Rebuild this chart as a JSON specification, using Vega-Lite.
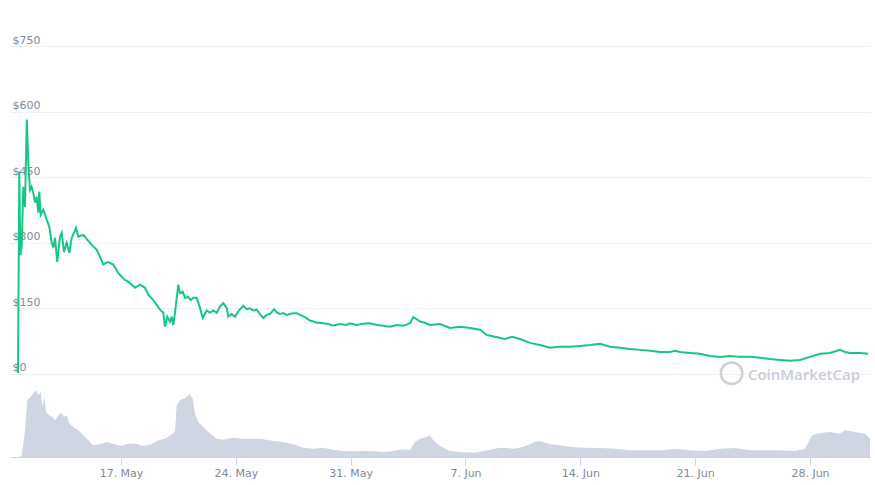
{
  "$schema": "https://vega.github.io/schema/vega-lite/v6.json",
  "width": 860,
  "height": 411,
  "autosize": {"type": "none"},
  "padding": {"left": 10, "top": 46, "right": 5, "bottom": 28},
  "background": "white",
  "config": {"view": {"stroke": null}, "font": "DejaVu Sans"},
  "datasets": {
    "price": [
      {"date": "2021-05-10T17:18", "price": 2},
      {"date": "2021-05-10T19:13", "price": 463},
      {"date": "2021-05-10T20:41", "price": 272},
      {"date": "2021-05-10T22:44", "price": 291},
      {"date": "2021-05-11T01:04", "price": 428},
      {"date": "2021-05-11T03:34", "price": 382},
      {"date": "2021-05-11T06:11", "price": 582},
      {"date": "2021-05-11T08:23", "price": 483},
      {"date": "2021-05-11T10:52", "price": 421},
      {"date": "2021-05-11T13:04", "price": 428},
      {"date": "2021-05-11T15:42", "price": 414},
      {"date": "2021-05-11T18:11", "price": 392},
      {"date": "2021-05-11T20:40", "price": 405},
      {"date": "2021-05-11T23:01", "price": 369},
      {"date": "2021-05-12T00:29", "price": 417},
      {"date": "2021-05-12T02:31", "price": 364},
      {"date": "2021-05-12T06:20", "price": 376},
      {"date": "2021-05-12T11:18", "price": 353},
      {"date": "2021-05-12T15:06", "price": 337},
      {"date": "2021-05-12T18:37", "price": 300},
      {"date": "2021-05-12T20:57", "price": 289},
      {"date": "2021-05-12T23:26", "price": 311},
      {"date": "2021-05-13T02:48", "price": 256},
      {"date": "2021-05-13T06:45", "price": 314},
      {"date": "2021-05-13T09:15", "price": 323},
      {"date": "2021-05-13T12:36", "price": 279},
      {"date": "2021-05-13T16:34", "price": 300},
      {"date": "2021-05-13T20:22", "price": 277},
      {"date": "2021-05-13T23:52", "price": 311},
      {"date": "2021-05-14T03:14", "price": 323},
      {"date": "2021-05-14T06:10", "price": 334},
      {"date": "2021-05-14T09:32", "price": 314},
      {"date": "2021-05-14T16:51", "price": 318},
      {"date": "2021-05-14T22:42", "price": 307},
      {"date": "2021-05-15T05:08", "price": 295},
      {"date": "2021-05-15T12:27", "price": 284},
      {"date": "2021-05-15T17:16", "price": 268},
      {"date": "2021-05-15T22:06", "price": 250},
      {"date": "2021-05-16T02:04", "price": 254},
      {"date": "2021-05-16T05:26", "price": 256},
      {"date": "2021-05-16T12:44", "price": 250},
      {"date": "2021-05-16T20:03", "price": 231},
      {"date": "2021-05-17T01:01", "price": 222},
      {"date": "2021-05-17T05:51", "price": 215},
      {"date": "2021-05-17T10:41", "price": 211},
      {"date": "2021-05-17T15:39", "price": 204},
      {"date": "2021-05-17T20:29", "price": 197},
      {"date": "2021-05-18T03:48", "price": 204},
      {"date": "2021-05-18T11:07", "price": 197},
      {"date": "2021-05-18T15:56", "price": 181},
      {"date": "2021-05-18T23:15", "price": 169},
      {"date": "2021-05-19T04:13", "price": 158},
      {"date": "2021-05-19T09:03", "price": 147},
      {"date": "2021-05-19T13:53", "price": 140},
      {"date": "2021-05-19T16:22", "price": 108},
      {"date": "2021-05-19T19:44", "price": 131},
      {"date": "2021-05-19T23:41", "price": 119},
      {"date": "2021-05-20T02:10", "price": 131},
      {"date": "2021-05-20T04:31", "price": 112},
      {"date": "2021-05-20T07:00", "price": 140},
      {"date": "2021-05-20T11:50", "price": 204},
      {"date": "2021-05-20T14:19", "price": 185},
      {"date": "2021-05-20T18:16", "price": 188},
      {"date": "2021-05-20T21:38", "price": 174},
      {"date": "2021-05-21T02:28", "price": 176},
      {"date": "2021-05-21T06:00", "price": 169},
      {"date": "2021-05-21T09:48", "price": 174},
      {"date": "2021-05-21T14:46", "price": 174},
      {"date": "2021-05-21T19:36", "price": 151},
      {"date": "2021-05-21T23:33", "price": 128},
      {"date": "2021-05-22T05:23", "price": 145},
      {"date": "2021-05-22T10:12", "price": 140},
      {"date": "2021-05-22T15:02", "price": 145},
      {"date": "2021-05-22T20:00", "price": 140},
      {"date": "2021-05-23T00:50", "price": 154},
      {"date": "2021-05-23T05:41", "price": 162},
      {"date": "2021-05-23T10:38", "price": 151},
      {"date": "2021-05-23T13:00", "price": 131},
      {"date": "2021-05-23T17:58", "price": 137},
      {"date": "2021-05-23T22:48", "price": 131},
      {"date": "2021-05-24T03:37", "price": 143},
      {"date": "2021-05-24T10:56", "price": 156},
      {"date": "2021-05-24T15:54", "price": 148},
      {"date": "2021-05-24T20:44", "price": 150},
      {"date": "2021-05-25T01:33", "price": 145},
      {"date": "2021-05-25T06:32", "price": 147},
      {"date": "2021-05-25T11:21", "price": 137},
      {"date": "2021-05-25T16:11", "price": 128},
      {"date": "2021-05-25T21:09", "price": 135},
      {"date": "2021-05-26T01:59", "price": 137},
      {"date": "2021-05-26T07:50", "price": 148},
      {"date": "2021-05-26T12:13", "price": 140},
      {"date": "2021-05-26T16:37", "price": 137},
      {"date": "2021-05-26T21:26", "price": 139},
      {"date": "2021-05-27T02:25", "price": 135},
      {"date": "2021-05-27T07:15", "price": 137},
      {"date": "2021-05-27T12:04", "price": 139},
      {"date": "2021-05-27T17:02", "price": 139},
      {"date": "2021-05-27T21:52", "price": 135},
      {"date": "2021-05-28T05:12", "price": 130},
      {"date": "2021-05-28T12:32", "price": 122},
      {"date": "2021-05-28T17:21", "price": 120},
      {"date": "2021-05-28T22:19", "price": 117},
      {"date": "2021-05-29T03:08", "price": 117},
      {"date": "2021-05-29T12:56", "price": 115},
      {"date": "2021-05-29T22:35", "price": 111},
      {"date": "2021-05-30T08:25", "price": 114},
      {"date": "2021-05-30T18:12", "price": 112},
      {"date": "2021-05-30T23:02", "price": 116},
      {"date": "2021-05-31T08:50", "price": 112},
      {"date": "2021-05-31T18:30", "price": 115},
      {"date": "2021-06-01T04:18", "price": 116},
      {"date": "2021-06-01T14:06", "price": 112},
      {"date": "2021-06-01T23:46", "price": 110},
      {"date": "2021-06-02T09:32", "price": 108},
      {"date": "2021-06-02T19:20", "price": 112},
      {"date": "2021-06-03T05:01", "price": 110},
      {"date": "2021-06-03T14:48", "price": 116},
      {"date": "2021-06-03T19:38", "price": 130},
      {"date": "2021-06-04T00:35", "price": 125},
      {"date": "2021-06-04T05:24", "price": 120},
      {"date": "2021-06-04T12:43", "price": 117},
      {"date": "2021-06-04T20:01", "price": 112},
      {"date": "2021-06-05T10:42", "price": 114},
      {"date": "2021-06-06T01:18", "price": 105},
      {"date": "2021-06-06T15:54", "price": 108},
      {"date": "2021-06-07T06:36", "price": 105},
      {"date": "2021-06-07T21:12", "price": 101},
      {"date": "2021-06-08T07:24", "price": 89},
      {"date": "2021-06-08T19:06", "price": 85},
      {"date": "2021-06-09T09:48", "price": 80},
      {"date": "2021-06-09T20:00", "price": 85},
      {"date": "2021-06-10T07:42", "price": 80},
      {"date": "2021-06-10T22:24", "price": 71},
      {"date": "2021-06-11T13:00", "price": 66},
      {"date": "2021-06-12T03:36", "price": 60},
      {"date": "2021-06-12T18:18", "price": 62},
      {"date": "2021-06-13T08:54", "price": 62},
      {"date": "2021-06-13T23:30", "price": 64},
      {"date": "2021-06-14T14:12", "price": 66},
      {"date": "2021-06-15T04:48", "price": 69},
      {"date": "2021-06-15T19:24", "price": 62},
      {"date": "2021-06-16T10:06", "price": 60},
      {"date": "2021-06-17T00:42", "price": 57},
      {"date": "2021-06-17T15:18", "price": 55},
      {"date": "2021-06-18T06:00", "price": 53},
      {"date": "2021-06-18T20:36", "price": 50},
      {"date": "2021-06-19T11:12", "price": 50},
      {"date": "2021-06-19T18:36", "price": 53},
      {"date": "2021-06-20T01:54", "price": 50},
      {"date": "2021-06-20T16:30", "price": 48},
      {"date": "2021-06-21T07:06", "price": 46},
      {"date": "2021-06-21T21:48", "price": 41},
      {"date": "2021-06-22T12:24", "price": 39},
      {"date": "2021-06-23T03:00", "price": 41},
      {"date": "2021-06-23T17:42", "price": 39},
      {"date": "2021-06-24T08:18", "price": 39},
      {"date": "2021-06-24T22:54", "price": 37},
      {"date": "2021-06-25T13:36", "price": 34},
      {"date": "2021-06-26T04:12", "price": 32},
      {"date": "2021-06-26T18:48", "price": 30},
      {"date": "2021-06-27T09:30", "price": 32},
      {"date": "2021-06-28T00:06", "price": 39},
      {"date": "2021-06-28T14:42", "price": 46},
      {"date": "2021-06-29T05:24", "price": 48},
      {"date": "2021-06-29T20:00", "price": 55},
      {"date": "2021-06-30T03:18", "price": 50},
      {"date": "2021-06-30T10:36", "price": 48},
      {"date": "2021-07-01T01:18", "price": 48},
      {"date": "2021-07-01T13:00", "price": 46}
    ],
    "volume": [
      {"date": "2021-05-10T15:24", "volume": 0},
      {"date": "2021-05-10T22:44", "volume": 0.7},
      {"date": "2021-05-11T03:34", "volume": 26.7},
      {"date": "2021-05-11T06:55", "volume": 56.7},
      {"date": "2021-05-11T11:54", "volume": 60},
      {"date": "2021-05-11T16:43", "volume": 65},
      {"date": "2021-05-11T19:39", "volume": 66.7},
      {"date": "2021-05-11T23:00", "volume": 61.7},
      {"date": "2021-05-12T02:31", "volume": 65},
      {"date": "2021-05-12T04:52", "volume": 50},
      {"date": "2021-05-12T07:48", "volume": 60},
      {"date": "2021-05-12T10:17", "volume": 45},
      {"date": "2021-05-12T15:07", "volume": 41.7},
      {"date": "2021-05-12T20:05", "volume": 40},
      {"date": "2021-05-12T23:27", "volume": 36.7},
      {"date": "2021-05-13T04:16", "volume": 41.7},
      {"date": "2021-05-13T09:15", "volume": 44.3},
      {"date": "2021-05-13T12:36", "volume": 40},
      {"date": "2021-05-13T16:34", "volume": 41.7},
      {"date": "2021-05-13T20:22", "volume": 33.3},
      {"date": "2021-05-14T02:13", "volume": 30},
      {"date": "2021-05-14T09:32", "volume": 26.7},
      {"date": "2021-05-14T16:51", "volume": 21.7},
      {"date": "2021-05-15T00:10", "volume": 16.7},
      {"date": "2021-05-15T06:35", "volume": 11.7},
      {"date": "2021-05-15T17:16", "volume": 12.7},
      {"date": "2021-05-16T03:04", "volume": 15},
      {"date": "2021-05-16T12:44", "volume": 13.3},
      {"date": "2021-05-16T22:32", "volume": 11},
      {"date": "2021-05-17T10:41", "volume": 13.3},
      {"date": "2021-05-17T23:00", "volume": 13.3},
      {"date": "2021-05-18T08:38", "volume": 11},
      {"date": "2021-05-18T20:55", "volume": 12.7},
      {"date": "2021-05-19T06:34", "volume": 16.7},
      {"date": "2021-05-19T16:22", "volume": 18.3},
      {"date": "2021-05-19T23:41", "volume": 21.7},
      {"date": "2021-05-20T07:00", "volume": 25},
      {"date": "2021-05-20T09:29", "volume": 51.7},
      {"date": "2021-05-20T14:19", "volume": 56.7},
      {"date": "2021-05-20T19:09", "volume": 58.3},
      {"date": "2021-05-21T00:07", "volume": 60},
      {"date": "2021-05-21T04:57", "volume": 63.3},
      {"date": "2021-05-21T08:54", "volume": 58.3},
      {"date": "2021-05-21T12:16", "volume": 43.3},
      {"date": "2021-05-21T17:06", "volume": 35},
      {"date": "2021-05-22T00:24", "volume": 30},
      {"date": "2021-05-22T10:12", "volume": 23.3},
      {"date": "2021-05-22T20:02", "volume": 18.3},
      {"date": "2021-05-23T05:41", "volume": 17.3},
      {"date": "2021-05-23T20:19", "volume": 19.3},
      {"date": "2021-05-24T10:57", "volume": 18.3},
      {"date": "2021-05-25T01:35", "volume": 18.3},
      {"date": "2021-05-25T16:12", "volume": 17.7},
      {"date": "2021-05-26T06:49", "volume": 16},
      {"date": "2021-05-26T21:28", "volume": 15},
      {"date": "2021-05-27T12:05", "volume": 12.7},
      {"date": "2021-05-28T02:43", "volume": 9.3},
      {"date": "2021-05-28T17:20", "volume": 8.3},
      {"date": "2021-05-29T07:59", "volume": 9.3},
      {"date": "2021-05-29T22:36", "volume": 7.3},
      {"date": "2021-05-30T13:14", "volume": 6},
      {"date": "2021-05-31T03:52", "volume": 5.7},
      {"date": "2021-05-31T18:30", "volume": 6},
      {"date": "2021-06-01T09:07", "volume": 5.7},
      {"date": "2021-06-01T23:46", "volume": 5},
      {"date": "2021-06-02T14:24", "volume": 6},
      {"date": "2021-06-03T00:07", "volume": 7.3},
      {"date": "2021-06-03T14:48", "volume": 7.3},
      {"date": "2021-06-03T22:06", "volume": 15},
      {"date": "2021-06-04T05:24", "volume": 18.3},
      {"date": "2021-06-04T15:12", "volume": 20},
      {"date": "2021-06-04T20:01", "volume": 21.7},
      {"date": "2021-06-05T00:54", "volume": 16.7},
      {"date": "2021-06-05T10:42", "volume": 11},
      {"date": "2021-06-06T01:18", "volume": 6},
      {"date": "2021-06-06T15:54", "volume": 5},
      {"date": "2021-06-07T13:54", "volume": 4.3},
      {"date": "2021-06-08T11:48", "volume": 7.3},
      {"date": "2021-06-09T02:24", "volume": 9.3},
      {"date": "2021-06-10T00:24", "volume": 8.3},
      {"date": "2021-06-10T15:00", "volume": 10.7},
      {"date": "2021-06-11T05:42", "volume": 15},
      {"date": "2021-06-11T13:00", "volume": 16},
      {"date": "2021-06-12T03:36", "volume": 12.7},
      {"date": "2021-06-12T18:18", "volume": 11.7},
      {"date": "2021-06-13T08:54", "volume": 10},
      {"date": "2021-06-14T06:48", "volume": 9.3},
      {"date": "2021-06-15T04:48", "volume": 9},
      {"date": "2021-06-16T02:42", "volume": 8.3},
      {"date": "2021-06-17T00:42", "volume": 6.7},
      {"date": "2021-06-18T06:00", "volume": 6.7},
      {"date": "2021-06-19T03:54", "volume": 6.7},
      {"date": "2021-06-19T18:36", "volume": 8.3},
      {"date": "2021-06-20T16:30", "volume": 6.7},
      {"date": "2021-06-21T14:30", "volume": 6},
      {"date": "2021-06-22T12:24", "volume": 8.3},
      {"date": "2021-06-23T10:18", "volume": 9},
      {"date": "2021-06-24T08:18", "volume": 6.7},
      {"date": "2021-06-25T06:12", "volume": 6.7},
      {"date": "2021-06-26T04:12", "volume": 6.7},
      {"date": "2021-06-27T02:06", "volume": 6},
      {"date": "2021-06-27T16:48", "volume": 8.3},
      {"date": "2021-06-28T03:00", "volume": 21.7},
      {"date": "2021-06-28T14:42", "volume": 24},
      {"date": "2021-06-29T05:24", "volume": 25},
      {"date": "2021-06-29T20:00", "volume": 23.3},
      {"date": "2021-06-30T03:18", "volume": 26.7},
      {"date": "2021-06-30T17:54", "volume": 25},
      {"date": "2021-07-01T08:36", "volume": 23.3},
      {"date": "2021-07-01T15:48", "volume": 18.3}
    ],
    "logo": [
      {"date": "2021-06-23T05:18", "price": 1.6}
    ],
    "brand": [
      {"date": "2021-07-01T01:12", "price": -2, "label": "CoinMarketCap"}
    ]
  },
  "encoding": {
    "x": {
      "field": "date",
      "type": "temporal",
      "scale": {
        "domain": [
          {"year": 2021, "month": 5, "date": 10, "hours": 5, "minutes": 37},
          {"year": 2021, "month": 7, "date": 1, "hours": 15, "minutes": 48}
        ]
      },
      "axis": {
        "title": null,
        "values": [
          {"year": 2021, "month": 5, "date": 17},
          {"year": 2021, "month": 5, "date": 24},
          {"year": 2021, "month": 5, "date": 31},
          {"year": 2021, "month": 6, "date": 7},
          {"year": 2021, "month": 6, "date": 14},
          {"year": 2021, "month": 6, "date": 21},
          {"year": 2021, "month": 6, "date": 28}
        ],
        "format": "%-d. %b",
        "grid": false,
        "domainColor": "#ccd6eb",
        "tickColor": "#ccd6eb",
        "tickSize": 8,
        "labelColor": "#808a9d",
        "labelFont": "DejaVu Sans",
        "labelFontSize": 11,
        "labelPadding": 2
      }
    }
  },
  "layer": [
    {
      "data": {"name": "volume"},
      "mark": {"type": "area", "color": "#cfd5e2", "interpolate": "linear", "clip": true},
      "encoding": {
        "y": {
          "field": "volume",
          "type": "quantitative",
          "scale": {"domain": [0, 411], "nice": false},
          "axis": null
        }
      }
    },
    {
      "data": {"name": "price"},
      "mark": {"type": "line", "color": "#16c784", "strokeWidth": 2, "clip": true},
      "encoding": {
        "y": {
          "field": "price",
          "type": "quantitative",
          "scale": {"domain": [-190, 750], "nice": false, "zero": false},
          "axis": {
            "title": null,
            "orient": "left",
            "values": [0, 150, 300, 450, 600, 750],
            "labelExpr": "'$' + datum.value",
            "grid": true,
            "gridColor": "#eceff3",
            "ticks": false,
            "domain": false,
            "labelAlign": "left",
            "labelBaseline": "alphabetic",
            "labelPadding": -2,
            "labelOffset": -3,
            "labelColor": "#808a9d",
            "labelFont": "DejaVu Sans",
            "labelFontSize": 11
          }
        }
      }
    },
    {
      "data": {"name": "logo"},
      "mark": {"type": "point", "shape": "circle", "filled": false, "stroke": "#cbd0da", "strokeWidth": 2.5, "size": 460, "opacity": 1},
      "encoding": {
        "y": {
          "field": "price",
          "type": "quantitative",
          "scale": {"domain": [-190, 750], "nice": false, "zero": false},
          "axis": null
        }
      }
    },
    {
      "data": {"name": "brand"},
      "mark": {"type": "text", "align": "right", "baseline": "middle", "font": "Open Sans", "fontSize": 15, "fontWeight": 600, "color": "#c9ced8"},
      "encoding": {
        "y": {
          "field": "price",
          "type": "quantitative",
          "scale": {"domain": [-190, 750], "nice": false, "zero": false},
          "axis": null
        },
        "text": {"field": "label"}
      }
    }
  ],
  "resolve": {"scale": {"y": "independent"}}
}
